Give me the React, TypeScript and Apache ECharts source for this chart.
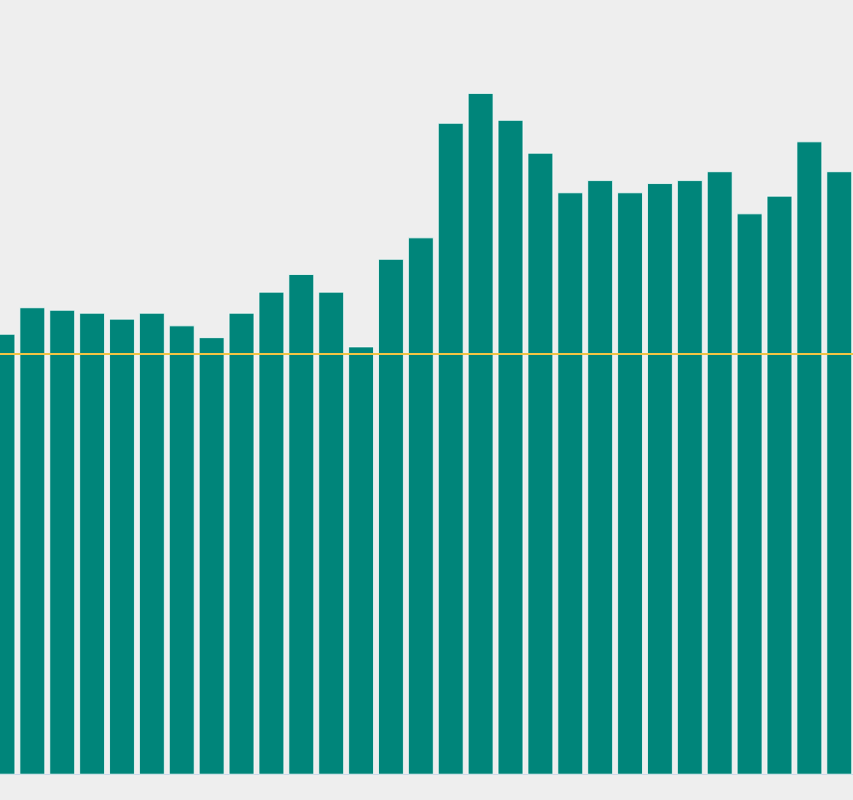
import React, { useEffect, useRef } from "react";
import * as echarts from "echarts";

const categories = [
  "1", "2", "3", "4", "5", "6", "7", "8", "9", "10",
  "11", "12", "13", "14", "15", "16", "17", "18", "19", "20",
  "21", "22", "23", "24", "25", "26", "27", "28", "29",
];

const values = [
  104.7, 111.0, 110.4, 109.7, 108.3, 109.7, 106.7, 103.9, 109.7, 114.7,
  118.9, 114.7, 101.7, 122.5, 127.6, 154.8, 161.9, 155.5, 147.7, 138.3,
  141.2, 138.3, 140.5, 141.2, 143.3, 133.3, 137.5, 150.4, 143.3,
];

const referenceLevel = 100;
const yMin = 0;
const yMax = 180;

export default function App() {
  const ref = useRef<HTMLDivElement>(null);

  useEffect(() => {
    if (!ref.current) return;
    const chart = echarts.init(ref.current, undefined, { renderer: "svg" });
    chart.setOption({
      animation: false,
      backgroundColor: "#eeeeee",
      grid: { left: 27.5, right: 38.8, top: 16.7, bottom: 25.3 },
      xAxis: {
        type: "category",
        data: categories,
        axisLine: { show: true, lineStyle: { color: "#ccd6eb", width: 1 } },
        axisTick: { show: false },
        axisLabel: { show: false },
        splitLine: { show: false },
      },
      yAxis: {
        type: "value",
        min: yMin,
        max: yMax,
        show: false,
        splitLine: { show: false },
      },
      series: [
        {
          type: "bar",
          data: values,
          barWidth: 25.9,
          itemStyle: {
            color: "#00857a",
            borderColor: "rgba(255,255,255,0.75)",
            borderWidth: 1,
          },
          markLine: {
            silent: true,
            symbol: ["none", "none"],
            label: { show: false },
            lineStyle: { color: "#f2c443", width: 2, type: "solid" },
            data: [{ yAxis: referenceLevel }],
          },
        },
      ],
    });
    return () => chart.dispose();
  }, []);

  return (
    <div
      style={{
        position: "fixed",
        left: 0,
        top: 0,
        width: 853,
        height: 800,
        overflow: "hidden",
        background: "#eeeeee",
      }}
    >
      <div
        ref={ref}
        style={{ position: "absolute", left: -40, top: 0, width: 933, height: 800 }}
      />
    </div>
  );
}
